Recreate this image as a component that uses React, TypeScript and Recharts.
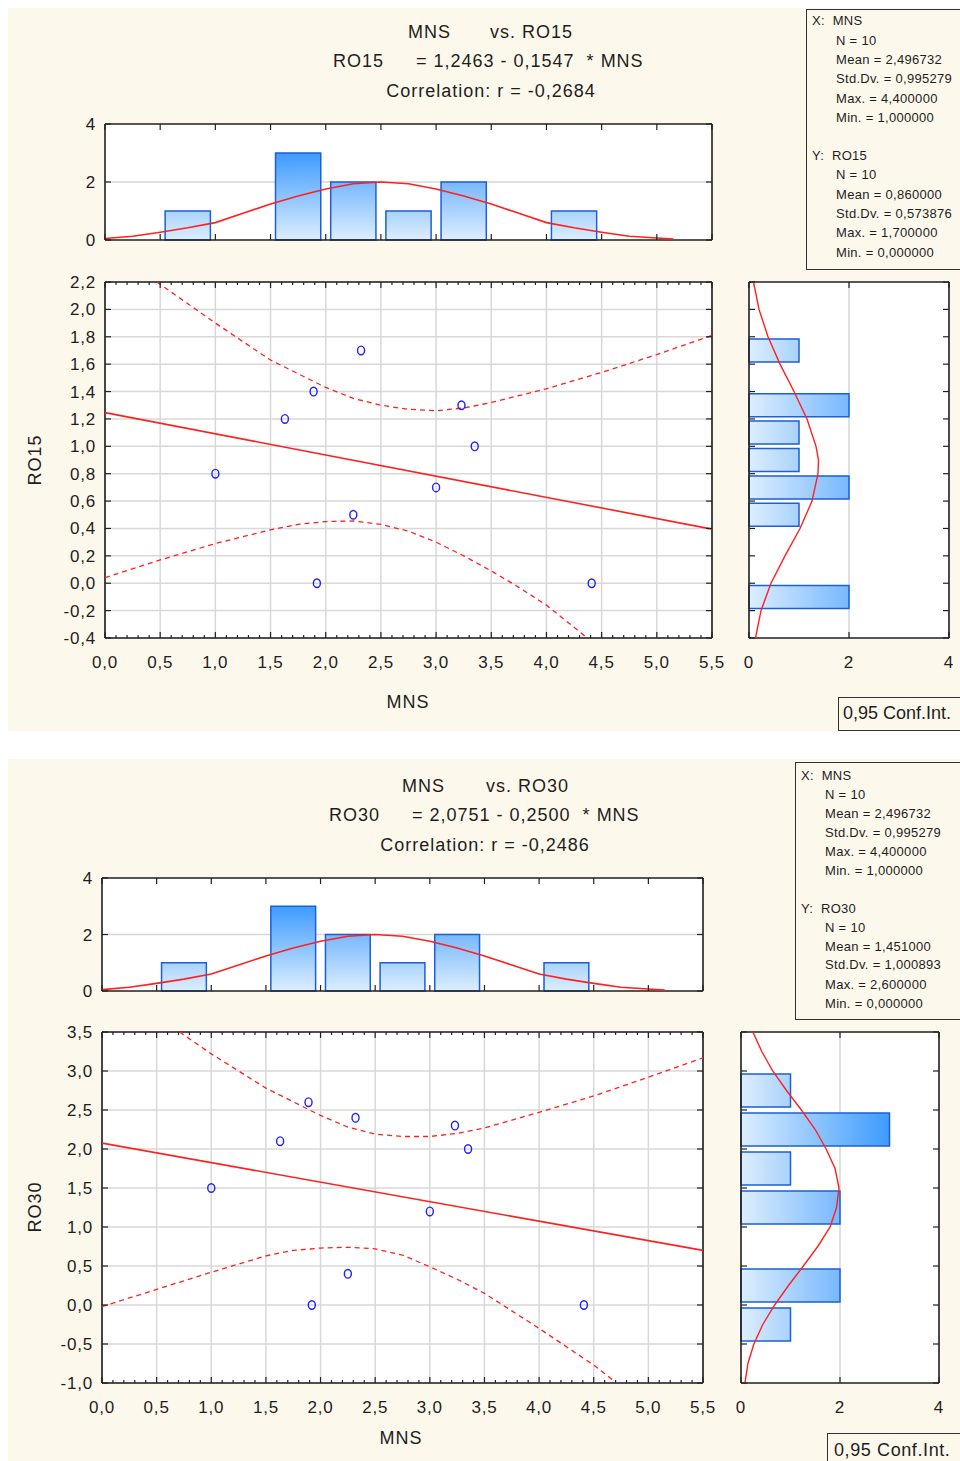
import React from 'react'
import { ScatterChart, Scatter, XAxis, YAxis, CartesianGrid, ReferenceArea } from 'recharts'

const FONT = '"Liberation Sans", Arial, sans-serif'
const INK = '#1e1e1e'
const CREAM = '#fdf8ec'
const RED = '#ff2020'
const EDGE = '#1d5fd6'
const DOT = '#2020ff'

// raw observations
const mns = [1.0, 1.63, 1.89, 1.92, 2.25, 2.32, 3.0, 3.23, 3.35, 4.41]
const ro15 = [0.8, 1.2, 1.4, 0.0, 0.5, 1.7, 0.7, 1.3, 1.0, 0.0]
const ro30 = [1.5, 2.1, 2.6, 0.0, 0.4, 2.4, 1.2, 2.3, 2.0, 0.0]

// histogram bins
const mnsBinLo = [0.5, 1.5, 2.0, 2.5, 3.0, 4.0]
const mnsBinHi = [1.0, 2.0, 2.5, 3.0, 3.5, 4.5]
const mnsCounts = [1, 3, 2, 1, 2, 1]
const ro15BinLo = [1.6, 1.2, 1.0, 0.8, 0.6, 0.4, -0.2]
const ro15BinHi = [1.8, 1.4, 1.2, 1.0, 0.8, 0.6, 0.0]
const ro15Counts = [1, 2, 1, 1, 2, 1, 2]
const ro30BinLo = [2.5, 2.0, 1.5, 1.0, 0.0, -0.5]
const ro30BinHi = [3.0, 2.5, 2.0, 1.5, 0.5, 0.0]
const ro30Counts = [1, 3, 1, 2, 2, 1]

// fitted normal curves
const mnsCurveX = [0, 0.25, 0.5, 0.75, 1.0, 1.25, 1.5, 1.75, 2.0, 2.25, 2.5, 2.75, 3.0, 3.25, 3.5, 3.75, 4.0, 4.25, 4.5, 4.75, 5.0, 5.15]
const mnsCurveN = [0.05, 0.13, 0.27, 0.42, 0.6, 0.92, 1.24, 1.52, 1.76, 1.94, 2.0, 1.94, 1.76, 1.52, 1.24, 0.92, 0.6, 0.42, 0.27, 0.13, 0.07, 0.03]
const ro15CurveY = [2.2, 2.0, 1.8, 1.6, 1.4, 1.2, 1.0, 0.9, 0.8, 0.6, 0.4, 0.2, 0.0, -0.2, -0.4]
const ro15CurveN = [0.09, 0.2, 0.38, 0.62, 0.9, 1.16, 1.34, 1.39, 1.38, 1.26, 1.02, 0.72, 0.44, 0.24, 0.13]
const ro30CurveY = [3.5, 3.25, 3.0, 2.75, 2.5, 2.25, 2.0, 1.75, 1.5, 1.25, 1.0, 0.75, 0.5, 0.25, 0.0, -0.25, -0.5, -0.75, -1.0]
const ro30CurveN = [0.24, 0.42, 0.64, 0.92, 1.22, 1.5, 1.72, 1.9, 1.98, 1.93, 1.8, 1.55, 1.26, 0.96, 0.68, 0.44, 0.26, 0.14, 0.08]

// regression lines and 0.95 confidence bands
const fitX = [0, 5.5]
const ro15FitY = [1.246, 0.395]
const ro30FitY = [2.075, 0.7]
const ro15UpX = [0.47, 1.0, 1.5, 2.0, 2.25, 2.5, 2.75, 3.0, 3.25, 3.5, 4.0, 4.5, 5.0, 5.5]
const ro15UpY = [2.2, 1.9, 1.63, 1.43, 1.35, 1.3, 1.27, 1.26, 1.28, 1.32, 1.42, 1.54, 1.67, 1.81]
const ro15LoX = [0, 0.5, 1.0, 1.5, 1.75, 2.0, 2.25, 2.5, 2.75, 3.0, 3.25, 3.5, 3.75, 4.0, 4.37]
const ro15LoY = [0.04, 0.17, 0.29, 0.39, 0.43, 0.45, 0.455, 0.43, 0.38, 0.3, 0.2, 0.09, -0.03, -0.16, -0.4]
const ro30UpX = [0.71, 1.0, 1.5, 2.0, 2.25, 2.5, 2.75, 3.0, 3.25, 3.5, 4.0, 4.5, 5.0, 5.5]
const ro30UpY = [3.5, 3.22, 2.78, 2.43, 2.28, 2.19, 2.16, 2.16, 2.2, 2.27, 2.47, 2.68, 2.92, 3.17]
const ro30LoX = [0, 0.5, 1.0, 1.5, 1.75, 2.0, 2.25, 2.5, 2.75, 3.0, 3.25, 3.5, 4.0, 4.5, 4.71]
const ro30LoY = [-0.02, 0.2, 0.42, 0.63, 0.7, 0.73, 0.74, 0.72, 0.64, 0.49, 0.33, 0.15, -0.3, -0.77, -1.0]

// ticks
const xMajor = [0, 0.5, 1, 1.5, 2, 2.5, 3, 3.5, 4, 4.5, 5, 5.5]
const ro15Major = [-0.4, -0.2, 0, 0.2, 0.4, 0.6, 0.8, 1.0, 1.2, 1.4, 1.6, 1.8, 2.0, 2.2]
const ro30Major = [-1, -0.5, 0, 0.5, 1, 1.5, 2, 2.5, 3, 3.5]
const histMajor = [0, 2, 4]

// stats box text
const stats15 = ['N = 10', 'Mean = 2,496732', 'Std.Dv. = 0,995279', 'Max. = 4,400000', 'Min. = 1,000000', 'N = 10', 'Mean = 0,860000', 'Std.Dv. = 0,573876', 'Max. = 1,700000', 'Min. = 0,000000']
const stats30 = ['N = 10', 'Mean = 2,496732', 'Std.Dv. = 0,995279', 'Max. = 4,400000', 'Min. = 1,000000', 'N = 10', 'Mean = 1,451000', 'Std.Dv. = 1,000893', 'Max. = 2,600000', 'Min. = 0,000000']

type Pt = { x: number; y: number }
const zip = (xs: number[], ys: number[]): Pt[] => xs.map((x, i) => ({ x, y: ys[i] }))
const steps = (lo: number, hi: number, st: number) =>
  Array.from({ length: Math.round((hi - lo) / st) + 1 }, (_, i) => Math.round((lo + i * st) * 100) / 100)
const xMinor = steps(0, 5.5, 0.1)
const comma = (v: number) => v.toFixed(1).replace('.', ',')
const plain = (v: number) => String(v)

const NoDot = () => <g />
const Ring = (p: any) => (
  <ellipse cx={p.cx} cy={p.cy} rx={3.5} ry={4.3} fill="none" stroke={DOT} strokeWidth={1.4} />
)

type Side = 'top' | 'bottom' | 'left' | 'right'
function tickFn(side: Side, majors: number[], fmt?: (v: number) => string) {
  return (p: any) => {
    const x = Number(p.x)
    const y = Number(p.y)
    const v = Number(p.payload?.value)
    const major = majors.some((m) => Math.abs(m - v) < 1e-6)
    const len = major ? 6 : 3
    const end =
      side === 'bottom' ? [x, y - len] : side === 'top' ? [x, y + len] : side === 'left' ? [x + len, y] : [x - len, y]
    return (
      <g>
        <line x1={x} y1={y} x2={end[0]} y2={end[1]} stroke="#222" strokeWidth={1.2} />
        {fmt && major && side === 'bottom' && (
          <text x={x} y={y + 30} textAnchor="middle" fontSize={17} letterSpacing={0.8} fontFamily={FONT} fill={INK}>{fmt(v)}</text>
        )}
        {fmt && major && side === 'left' && (
          <text x={x - 9} y={y + 6} textAnchor="end" fontSize={17} letterSpacing={0.8} fontFamily={FONT} fill={INK}>{fmt(v)}</text>
        )}
      </g>
    )
  }
}

const AX = { stroke: '#1f1f1f', strokeWidth: 1.6 }

type AxCfg = {
  xDomain: [number, number]; yDomain: [number, number]
  xTicksB: number[]; xTicksT: number[]; xMaj: number[]
  yTicks: number[]; yMaj: number[]
  xFmt?: (v: number) => string; yFmt?: (v: number) => string
}
function axes(c: AxCfg) {
  const common = { type: 'number' as const, allowDataOverflow: true, interval: 0 as const, tickLine: false, tickSize: 0, tickMargin: 0, axisLine: AX }
  return [
    <XAxis key="xb" xAxisId="b" dataKey="x" domain={c.xDomain} ticks={c.xTicksB} height={40} tick={tickFn('bottom', c.xMaj, c.xFmt)} {...common} />,
    <XAxis key="xt" xAxisId="t" dataKey="x" orientation="top" mirror domain={c.xDomain} ticks={c.xTicksT} tick={tickFn('top', c.xMaj)} {...common} />,
    <YAxis key="yl" yAxisId="l" dataKey="y" width={60} domain={c.yDomain} ticks={c.yTicks} tick={tickFn('left', c.yMaj, c.yFmt)} {...common} />,
    <YAxis key="yr" yAxisId="r" dataKey="y" orientation="right" mirror domain={c.yDomain} ticks={c.yTicks} tick={tickFn('right', c.yMaj)} {...common} />,
  ]
}

const SHADE = ['#a9d2fb', '#78b8fd', '#3d9bff']
const PALE = '#ddeefe'
function grads(gid: string, vertical: boolean) {
  return (
    <defs key="defs">
      {SHADE.map((c, i) => (
        <linearGradient key={i} id={`${gid}${i + 1}`} x1="0" y1="0" x2={vertical ? '0' : '1'} y2={vertical ? '1' : '0'}>
          <stop offset="0" stopColor={vertical ? c : PALE} />
          <stop offset="1" stopColor={vertical ? PALE : c} />
        </linearGradient>
      ))}
    </defs>
  )
}

const MT = 12
const MR = 14
type Box = { left: number; top: number; w: number; h: number }

function TopHist({ left, top, w, h, gid }: Box & { gid: string }) {
  return (
    <div style={{ position: 'absolute', left: left - 60, top: top - MT }}>
      <ScatterChart width={60 + w + MR} height={MT + h + 40} margin={{ top: MT, right: MR, bottom: 0, left: 0 }}>
        {grads(gid, true)}
        <CartesianGrid xAxisId="b" yAxisId="l" vertical={false} horizontalValues={[2]} stroke="#d6d6d6" strokeWidth={1.5} fill="#fff" fillOpacity={1} />
        {axes({ xDomain: [0, 5.5], yDomain: [0, 4], xTicksB: xMajor, xTicksT: xMajor, xMaj: xMajor, yTicks: histMajor, yMaj: histMajor, yFmt: plain })}
        {mnsBinLo.map((lo, i) => (
          <ReferenceArea key={lo} xAxisId="b" yAxisId="l" x1={lo + 0.045} x2={mnsBinHi[i] - 0.045} y1={0} y2={mnsCounts[i]}
            fill={`url(#${gid}${mnsCounts[i]})`} fillOpacity={1} stroke={EDGE} strokeWidth={1.5} ifOverflow="visible" />
        ))}
        <Scatter xAxisId="t" yAxisId="r" data={zip(mnsCurveX, mnsCurveN)} line={{ stroke: RED, strokeWidth: 1.6 }} shape={NoDot} isAnimationActive={false} />
      </ScatterChart>
    </div>
  )
}

function SideHist({ left, top, w, h, gid, lo, hi, counts, curveY, curveN, yDomain, yMaj, pad }: Box & {
  gid: string; lo: number[]; hi: number[]; counts: number[]; curveY: number[]; curveN: number[]
  yDomain: [number, number]; yMaj: number[]; pad: number
}) {
  return (
    <div style={{ position: 'absolute', left: left - 60, top: top - MT }}>
      <ScatterChart width={60 + w + MR} height={MT + h + 40} margin={{ top: MT, right: MR, bottom: 0, left: 0 }}>
        {grads(gid, false)}
        <CartesianGrid xAxisId="b" yAxisId="l" horizontal={false} verticalValues={[2]} stroke="#d6d6d6" strokeWidth={1.5} fill="#fff" fillOpacity={1} />
        {axes({ xDomain: [0, 4], yDomain, xTicksB: histMajor, xTicksT: histMajor, xMaj: histMajor, xFmt: plain, yTicks: yMaj, yMaj })}
        {lo.map((l, i) => (
          <ReferenceArea key={l} xAxisId="b" yAxisId="l" x1={0} x2={counts[i]} y1={l + pad} y2={hi[i] - pad}
            fill={`url(#${gid}${counts[i]})`} fillOpacity={1} stroke={EDGE} strokeWidth={1.5} ifOverflow="visible" />
        ))}
        <Scatter xAxisId="t" yAxisId="r" data={zip(curveN, curveY)} line={{ stroke: RED, strokeWidth: 1.4 }} shape={NoDot} isAnimationActive={false} />
      </ScatterChart>
    </div>
  )
}

function ScatterPanel({ left, top, w, h, ys, fitY, upX, upY, loX, loY, yDomain, yMaj }: Box & {
  ys: number[]; fitY: number[]; upX: number[]; upY: number[]; loX: number[]; loY: number[]
  yDomain: [number, number]; yMaj: number[]
}) {
  const dash = { stroke: RED, strokeWidth: 1.3, strokeDasharray: '5 4' }
  return (
    <div style={{ position: 'absolute', left: left - 60, top: top - MT }}>
      <ScatterChart width={60 + w + MR} height={MT + h + 40} margin={{ top: MT, right: MR, bottom: 0, left: 0 }}>
        <CartesianGrid xAxisId="b" yAxisId="l" horizontalValues={yMaj} verticalValues={xMajor} stroke="#d8d8d8" strokeWidth={1.5} fill="#fff" fillOpacity={1} />
        {axes({ xDomain: [0, 5.5], yDomain, xTicksB: xMinor, xTicksT: xMinor, xMaj: xMajor, xFmt: comma, yTicks: yMaj, yMaj, yFmt: comma })}
        <Scatter xAxisId="t" yAxisId="r" data={zip(fitX, fitY)} line={{ stroke: RED, strokeWidth: 1.6 }} shape={NoDot} isAnimationActive={false} />
        <Scatter xAxisId="b" yAxisId="l" data={zip(upX, upY)} line={dash} shape={NoDot} isAnimationActive={false} />
        <Scatter xAxisId="b" yAxisId="l" data={zip(loX, loY)} line={dash} shape={NoDot} isAnimationActive={false} />
        <Scatter xAxisId="b" yAxisId="l" data={zip(mns, ys)} shape={Ring} isAnimationActive={false} />
      </ScatterChart>
    </div>
  )
}

function Txt({ x, y, size = 18, anchor = 'start', rotate = false, spacing = 1, children }: {
  x: number; y: number; size?: number; anchor?: 'start' | 'middle'; rotate?: boolean; spacing?: number; children: React.ReactNode
}) {
  const tx = anchor === 'middle' ? '-50%' : '0'
  return (
    <div style={{
      position: 'absolute', left: x, top: y, fontSize: size, lineHeight: 1, fontFamily: FONT, color: INK,
      whiteSpace: 'pre', letterSpacing: spacing, transform: `translate(${tx}, -50%)${rotate ? ' rotate(-90deg)' : ''}`,
    }}>{children}</div>
  )
}

function Stats({ left, top, w, h, xName, yName, lines, rows }: Box & { xName: string; yName: string; lines: string[]; rows: number[] }) {
  return (
    <>
      <div style={{ position: 'absolute', left, top, width: w, height: h, border: '1px solid #333', background: CREAM }} />
      <Txt x={left + 6} y={rows[0]} size={13} spacing={0.3}>{`X:  ${xName}`}</Txt>
      <Txt x={left + 6} y={rows[6]} size={13} spacing={0.3}>{`Y:  ${yName}`}</Txt>
      {lines.map((s, i) => (
        <Txt key={i} x={left + 30} y={rows[i < 5 ? i + 1 : i + 2]} size={13} spacing={0.3}>{s}</Txt>
      ))}
    </>
  )
}

export default function App() {
  return (
    <div style={{ position: 'absolute', left: 0, top: 0, width: 960, height: 1461, overflow: 'hidden', background: '#fff' }}>
      {/* panel 1 */}
      <div style={{ position: 'absolute', left: 8, top: 8, width: 952, height: 723, background: CREAM }} />
      <Txt x={408} y={32}>MNS</Txt>
      <Txt x={490} y={32}>vs. RO15</Txt>
      <Txt x={333} y={61}>RO15</Txt>
      <Txt x={416} y={61}>{'= 1,2463 - 0,1547  * MNS'}</Txt>
      <Txt x={491} y={91} anchor="middle">Correlation: r = -0,2684</Txt>
      <Stats left={806} top={9} w={170} h={259} xName="MNS" yName="RO15" lines={stats15}
        rows={[20, 40, 59, 78, 98, 117, 155, 174, 194, 213, 232, 252]} />
      <TopHist left={105} top={124} w={607} h={116} gid="ga" />
      <ScatterPanel left={105} top={282} w={607} h={356} ys={ro15} fitY={ro15FitY}
        upX={ro15UpX} upY={ro15UpY} loX={ro15LoX} loY={ro15LoY} yDomain={[-0.4, 2.2]} yMaj={ro15Major} />
      <SideHist left={749} top={282} w={200} h={356} gid="gb" lo={ro15BinLo} hi={ro15BinHi} counts={ro15Counts}
        curveY={ro15CurveY} curveN={ro15CurveN} yDomain={[-0.4, 2.2]} yMaj={ro15Major} pad={0.016} />
      <Txt x={408} y={702} anchor="middle">MNS</Txt>
      <Txt x={35} y={460} anchor="middle" rotate>RO15</Txt>
      <div style={{ position: 'absolute', left: 838, top: 697, width: 140, height: 32, border: '1px solid #333', background: CREAM }} />
      <Txt x={843} y={713} spacing={0}>0,95 Conf.Int.</Txt>

      {/* panel 2 */}
      <div style={{ position: 'absolute', left: 8, top: 759, width: 952, height: 702, background: CREAM }} />
      <Txt x={402} y={786}>MNS</Txt>
      <Txt x={486} y={786}>vs. RO30</Txt>
      <Txt x={329} y={815}>RO30</Txt>
      <Txt x={412} y={815}>{'= 2,0751 - 0,2500  * MNS'}</Txt>
      <Txt x={485} y={845} anchor="middle">Correlation: r = -0,2486</Txt>
      <Stats left={795} top={762} w={180} h={256} xName="MNS" yName="RO30" lines={stats30}
        rows={[775, 794, 813, 832, 851, 870, 908, 927, 946, 964, 984, 1003]} />
      <TopHist left={102} top={878} w={601} h={113} gid="gc" />
      <ScatterPanel left={102} top={1032} w={601} h={351} ys={ro30} fitY={ro30FitY}
        upX={ro30UpX} upY={ro30UpY} loX={ro30LoX} loY={ro30LoY} yDomain={[-1, 3.5]} yMaj={ro30Major} />
      <SideHist left={741} top={1032} w={198} h={351} gid="gd" lo={ro30BinLo} hi={ro30BinHi} counts={ro30Counts}
        curveY={ro30CurveY} curveN={ro30CurveN} yDomain={[-1, 3.5]} yMaj={ro30Major} pad={0.04} />
      <Txt x={401} y={1438} anchor="middle">MNS</Txt>
      <Txt x={35} y={1207} anchor="middle" rotate>RO30</Txt>
      <div style={{ position: 'absolute', left: 827, top: 1433, width: 150, height: 40, border: '1px solid #333', background: CREAM }} />
      <Txt x={834} y={1450} spacing={0.6}>0,95 Conf.Int.</Txt>
    </div>
  )
}
